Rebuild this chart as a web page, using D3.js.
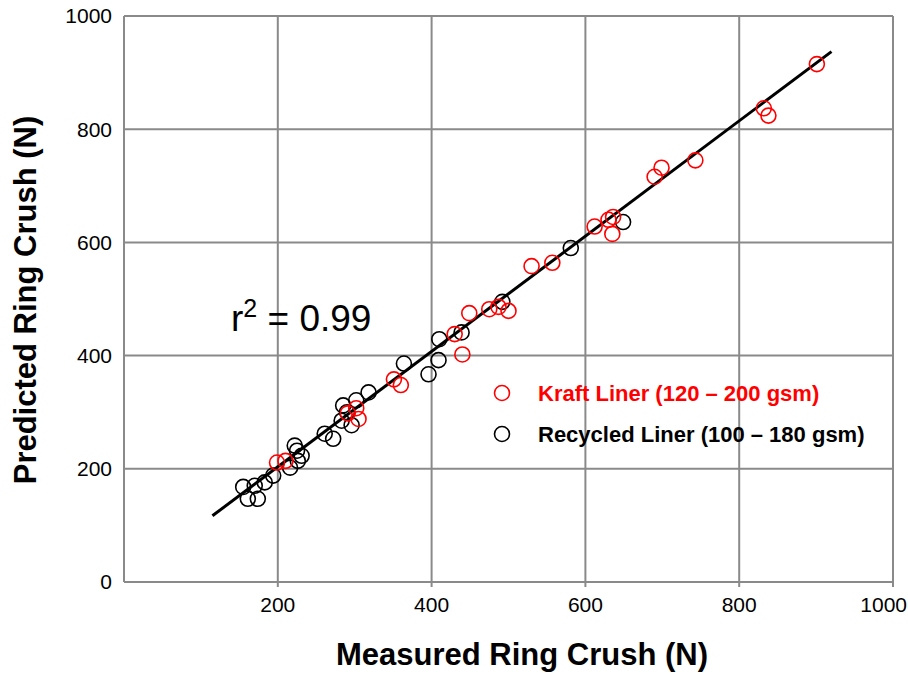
<!DOCTYPE html>
<html>
<head>
<meta charset="utf-8">
<script src="https://cdn.jsdelivr.net/npm/d3@7"></script>
<style>
  body { margin: 0; background: #fff; }
  svg { font-family: "Liberation Sans", Arial, sans-serif; }
</style>
</head>
<body>
<script>
// Kraft liner points [measured, predicted]
var kraft = [
  [199, 211], [210, 214], [291, 298], [302, 307], [305, 288],
  [351, 358], [360, 348], [430, 438], [440, 402], [449, 475],
  [475, 482], [487, 486], [500, 479], [530, 558], [557, 564],
  [612, 628], [630, 640], [636, 645], [635, 615], [690, 716],
  [699, 732], [743, 745], [832, 837], [838, 824], [901, 915]
];

// Recycled liner points [measured, predicted]
var recycled = [
  [155, 168], [170, 170], [161, 147], [174, 147], [183, 176],
  [194, 188], [216, 202], [226, 214], [231, 223], [225, 232],
  [222, 241], [261, 262], [272, 253], [283, 285], [296, 277],
  [285, 312], [290, 300], [302, 321], [318, 335], [364, 386],
  [396, 367], [409, 392], [410, 429], [439, 441], [492, 495],
  [581, 590], [649, 636]
];

// fitted line endpoints
var fitX = [115, 920];
var fitY = [117, 937];

var xTicks = [200, 400, 600, 800, 1000];
var yTicks = [0, 200, 400, 600, 800, 1000];

var width = 908, height = 673;
var margin = {left: 124, right: 15, top: 16, bottom: 91};

var svg = d3.select('body')
  .append('svg')
  .attr('width', width)
  .attr('height', height);

var x = d3.scaleLinear().domain([0, 1000])
  .range([margin.left, width - margin.right]);
var y = d3.scaleLinear().domain([0, 1000])
  .range([height - margin.bottom, margin.top]);

var grid = '#8a8a8a';

// grid lines (with short ticks below the x axis)
svg.append('g')
  .selectAll('line')
  .data(xTicks)
  .enter()
  .append('line')
  .attr('x1', function(d) { return x(d); })
  .attr('x2', function(d) { return x(d); })
  .attr('y1', y(1000))
  .attr('y2', y(0) + 5)
  .attr('stroke', grid)
  .attr('stroke-width', 2);

svg.append('g')
  .selectAll('line')
  .data(yTicks)
  .enter()
  .append('line')
  .attr('x1', x(0))
  .attr('x2', x(1000))
  .attr('y1', function(d) { return y(d); })
  .attr('y2', function(d) { return y(d); })
  .attr('stroke', grid)
  .attr('stroke-width', 2);

// left axis line
svg.append('line')
  .attr('x1', x(0)).attr('x2', x(0))
  .attr('y1', y(1000)).attr('y2', y(0))
  .attr('stroke', grid).attr('stroke-width', 2);

// tick labels
svg.append('g')
  .selectAll('text')
  .data(yTicks)
  .enter()
  .append('text')
  .attr('x', x(0) - 12)
  .attr('y', function(d) { return y(d); })
  .attr('dy', '0.35em')
  .attr('text-anchor', 'end')
  .style('font-size', '21px')
  .text(function(d) { return d; });

svg.append('g')
  .selectAll('text')
  .data(xTicks)
  .enter()
  .append('text')
  .attr('y', y(0) + 30)
  .attr('text-anchor', 'middle')
  .style('font-size', '21px')
  .text(function(d) { return d; })
  .attr('x', function(d) {
    // keep the last label inside the page
    var half = this.getComputedTextLength() / 2;
    return Math.min(x(d), width - half - 1);
  });

// axis titles
svg.append('text')
  .attr('x', 522)
  .attr('y', 665)
  .attr('text-anchor', 'middle')
  .style('font-size', '31px')
  .style('font-weight', 'bold')
  .text('Measured Ring Crush (N)');

svg.append('text')
  .attr('transform', 'translate(36, 300) rotate(-90)')
  .attr('text-anchor', 'middle')
  .style('font-size', '31px')
  .style('font-weight', 'bold')
  .text('Predicted Ring Crush (N)');

// fitted line
svg.append('line')
  .attr('x1', x(fitX[0])).attr('y1', y(fitY[0]))
  .attr('x2', x(fitX[1])).attr('y2', y(fitY[1]))
  .attr('stroke', '#000')
  .attr('stroke-width', 3);

// points
svg.append('g')
  .selectAll('circle')
  .data(recycled)
  .enter()
  .append('circle')
  .attr('cx', function(d) { return x(d[0]); })
  .attr('cy', function(d) { return y(d[1]); })
  .attr('r', 7.5)
  .attr('fill', 'none')
  .attr('stroke', '#000')
  .attr('stroke-width', 1.6);

svg.append('g')
  .selectAll('circle')
  .data(kraft)
  .enter()
  .append('circle')
  .attr('cx', function(d) { return x(d[0]); })
  .attr('cy', function(d) { return y(d[1]); })
  .attr('r', 7.5)
  .attr('fill', 'none')
  .attr('stroke', '#ff0000')
  .attr('stroke-width', 1.6);

// r squared
var r2 = svg.append('text')
  .attr('x', 231)
  .attr('y', 331)
  .style('font-size', '37px');
r2.append('tspan').text('r');
r2.append('tspan').attr('dy', -14).style('font-size', '25px').text('2');
r2.append('tspan').attr('dy', 14).text(' = 0.99');

// legend
var legend = [
  {label: 'Kraft Liner (120 \u2013 200 gsm)', color: '#ff0000'},
  {label: 'Recycled Liner (100 \u2013 180 gsm)', color: '#000'}
];
var lg = svg.append('g')
  .selectAll('g')
  .data(legend)
  .enter()
  .append('g')
  .attr('transform', function(d, i) { return 'translate(502,' + (393 + i * 41) + ')'; });
lg.append('circle')
  .attr('r', 7.5)
  .attr('fill', 'none')
  .attr('stroke', function(d) { return d.color; })
  .attr('stroke-width', 1.6);
lg.append('text')
  .attr('x', 36)
  .attr('dy', '0.36em')
  .style('font-size', '22px')
  .style('font-weight', 'bold')
  .style('fill', function(d) { return d.color; })
  .text(function(d) { return d.label; });
</script>
</body>
</html>
